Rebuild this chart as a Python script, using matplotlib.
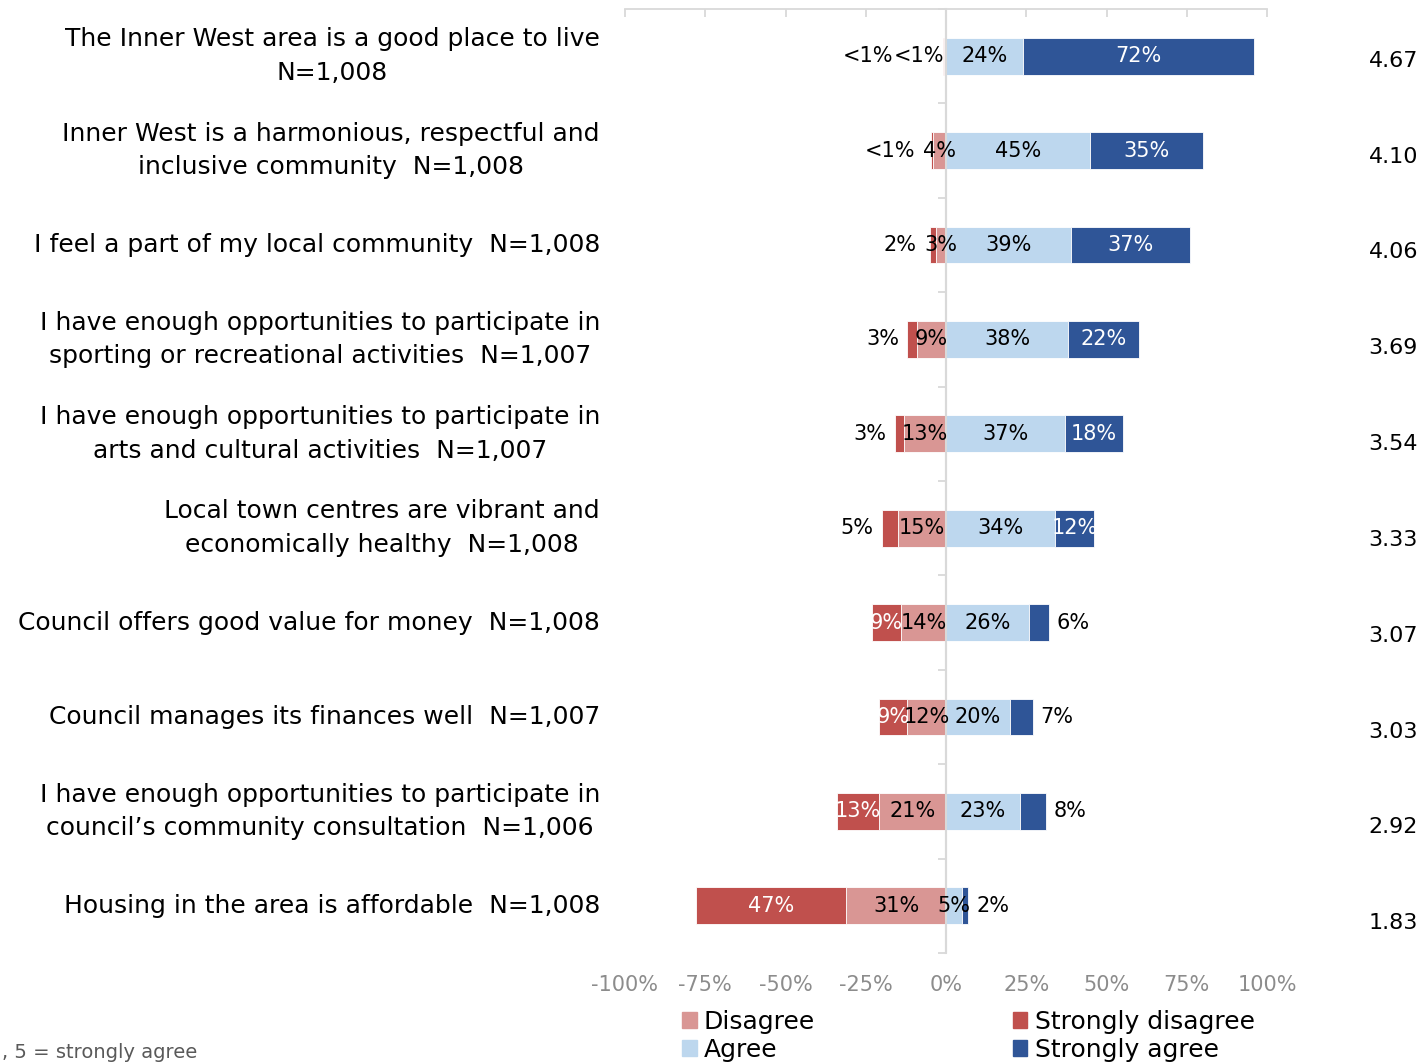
import matplotlib
matplotlib.use("Agg")
import matplotlib.pyplot as plt
import matplotlib.transforms as mtransforms
from matplotlib.patches import Patch
import numpy as np

plt.rcParams['font.family'] = ['DejaVu Sans']

statements = [
    "The Inner West area is a good place to live\nN=1,008",
    "Inner West is a harmonious, respectful and\ninclusive community  N=1,008",
    "I feel a part of my local community  N=1,008",
    "I have enough opportunities to participate in\nsporting or recreational activities  N=1,007",
    "I have enough opportunities to participate in\narts and cultural activities  N=1,007",
    "Local town centres are vibrant and\neconomically healthy  N=1,008",
    "Council offers good value for money  N=1,008",
    "Council manages its finances well  N=1,007",
    "I have enough opportunities to participate in\ncouncil\u2019s community consultation  N=1,006",
    "Housing in the area is affordable  N=1,008",
]
strongly_disagree = [0.4, 0.8, 2, 3, 3, 5, 9, 9, 13, 47]
disagree = [0.6, 4, 3, 9, 13, 15, 14, 12, 21, 31]
agree = [24, 45, 39, 38, 37, 34, 26, 20, 23, 5]
strongly_agree = [72, 35, 37, 22, 18, 12, 6, 7, 8, 2]
mean_scores = [4.67, 4.10, 4.06, 3.69, 3.54, 3.33, 3.07, 3.03, 2.92, 1.83]
x_ticks = [-100, -75, -50, -25, 0, 25, 50, 75, 100]
x_tick_labels = ["-100%", "-75%", "-50%", "-25%", "0%", "25%", "50%", "75%", "100%"]

C_SD = "#C0504D"
C_D = "#D99694"
C_A = "#BDD7EE"
C_SA = "#2F5597"
GRID = "#D9D9D9"
FS_LAB = 18      # statement labels
FS_VAL = 15      # bar value labels
FS_MEAN = 16
GAP = 8          # px between a bar end and an outside label

W, H = 1422, 1063
fig = plt.figure(figsize=(W / 100, H / 100), dpi=100)
ax = fig.add_axes([625 / W, 1 - 953 / H, 642 / W, 944 / H])

y = np.arange(len(statements))
sd = np.array(strongly_disagree, float)
d = np.array(disagree, float)
a = np.array(agree, float)
sa = np.array(strongly_agree, float)
bh = 0.39
ek = dict(edgecolor="white", linewidth=0.6)
ax.barh(y, -d, height=bh, color=C_D, **ek)
ax.barh(y, -sd, left=-d, height=bh, color=C_SD, **ek)
ax.barh(y, a, height=bh, color=C_A, **ek)
ax.barh(y, sa, left=a, height=bh, color=C_SA, **ek)

ax.set_xlim(-100, 100)
ax.set_ylim(len(statements) - 0.5, -0.5)
ax.axvline(0, color=GRID, lw=1.5, zorder=0)
renderer = fig.canvas.get_renderer()


def fmt(v):
    return "<1%" if v < 1 else f"{v:.0f}%"


for i in range(len(statements)):
    # disagree (inner, left of zero)
    if d[i] < 1:
        dt = ax.text(-d[i], i, fmt(d[i]), ha="right", va="center", fontsize=FS_VAL, color="black")
    else:
        dt = ax.text(-d[i] / 2, i, fmt(d[i]), ha="center", va="center", fontsize=FS_VAL, color="black")
    # strongly disagree (outer)
    if sd[i] <= 8:
        bar_left_px = ax.transData.transform((-(d[i] + sd[i]), i))[0] - GAP
        dt_left_px = dt.get_window_extent(renderer).x0 - (0 if d[i] < 1 else GAP)
        xr_px = min(bar_left_px, dt_left_px)
        xr = ax.transData.inverted().transform((xr_px, 0))[0]
        ax.text(xr, i, fmt(sd[i]), ha="right", va="center", fontsize=FS_VAL, color="black")
    else:
        ax.text(-(d[i] + sd[i] / 2), i, fmt(sd[i]), ha="center", va="center",
                fontsize=FS_VAL, color="white")
    # agree (inner)
    ax.text(a[i] / 2, i, fmt(a[i]), ha="center", va="center", fontsize=FS_VAL, color="black")
    # strongly agree (outer)
    if sa[i] <= 8:
        ax.annotate(fmt(sa[i]), xy=(a[i] + sa[i], i), xytext=(GAP * 0.72, 0),
                    textcoords="offset points", ha="left", va="center",
                    fontsize=FS_VAL, color="black")
    else:
        ax.text(a[i] + sa[i] / 2, i, fmt(sa[i]), ha="center", va="center",
                fontsize=FS_VAL, color="white")

# statement labels, right-aligned left of the plot
lab_tr = mtransforms.blended_transform_factory(ax.transAxes, ax.transData)
for i, s in enumerate(statements):
    ax.text(-25 / 642, i, s, transform=lab_tr, ha="right", va="center",
            multialignment="center", fontsize=FS_LAB, color="black", linespacing=1.5)

# axes styling: top line with ticks, labels at bottom, zero spine with minor ticks
for side in ["bottom", "right"]:
    ax.spines[side].set_visible(False)
ax.spines["top"].set_color(GRID)
ax.spines["top"].set_linewidth(1.3)
ax.spines["left"].set_position(("data", 0))
ax.spines["left"].set_color(GRID)
ax.spines["left"].set_linewidth(1.5)
ax.set_xticks(x_ticks)
ax.set_xticklabels(x_tick_labels)
ax.tick_params(axis="x", top=True, bottom=False, labeltop=False, labelbottom=True,
               direction="in", length=6, width=1.3, color=GRID, pad=16,
               labelsize=15, labelcolor="#8C8C8C")
ax.set_yticks([])
ax.set_yticks(np.arange(-0.5, len(statements)), minor=True)
ax.tick_params(axis="y", which="minor", left=True, direction="out", length=6,
               width=1.3, color=GRID, labelleft=False)

# mean scores column
axm = fig.add_axes([625 / W, 1 - 971 / H, 642 / W, 958 / H])
axm.set_xlim(0, 1)
axm.set_ylim(len(statements) - 0.5, -0.5)
axm.axis("off")
m_tr = mtransforms.blended_transform_factory(axm.transAxes, axm.transData)
for i, m in enumerate(mean_scores):
    axm.text((1418 - 625) / 642, i, f"{m:.2f}", transform=m_tr, ha="right",
             va="center", fontsize=FS_MEAN, color="black")

handles = [Patch(color=C_D, label="Disagree"), Patch(color=C_A, label="Agree"),
           Patch(color=C_SD, label="Strongly disagree"), Patch(color=C_SA, label="Strongly agree")]
fig.legend(handles=handles, ncol=2, loc="upper left", bbox_to_anchor=(672 / W, 1 - 1000 / H),
           frameon=False, fontsize=18, handlelength=0.58, handleheight=0.58,
           handletextpad=0.3, columnspacing=7.9, labelspacing=0.16, borderaxespad=0)

fig.text(2 / W, 1 - 1052 / H, ", 5 = strongly agree", ha="left", va="center",
         fontsize=14, color="#595959")

fig.savefig("out.png", dpi=100)
